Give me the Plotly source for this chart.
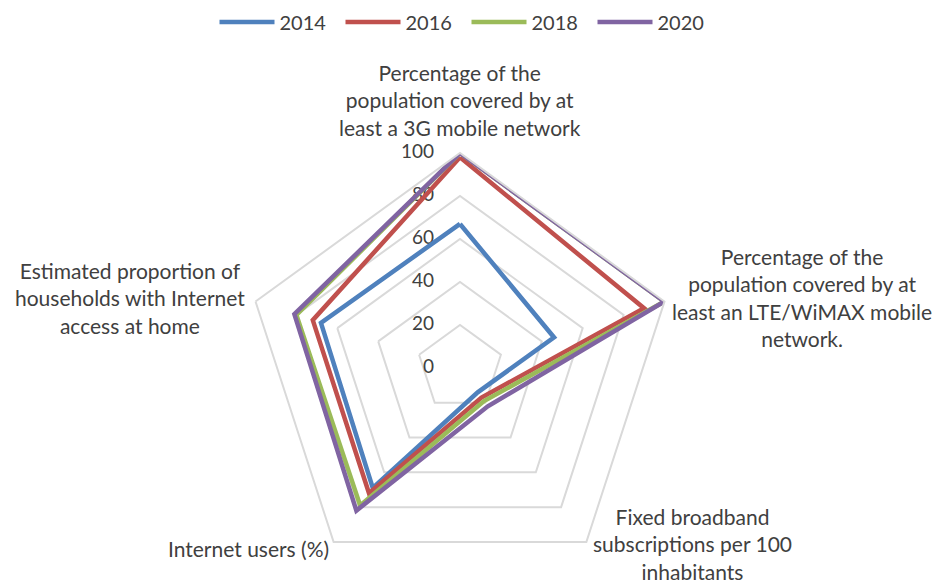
import math
import plotly.graph_objects as go

categories = [
    "Percentage of the<br>population covered by at<br>least a 3G mobile network",
    "Percentage of the<br>population covered by at<br>least an LTE/WiMAX mobile<br>network.",
    "Fixed broadband<br>subscriptions per 100<br>inhabitants",
    "Internet users (%)",
    "Estimated proportion of<br>households with Internet<br>access at home",
]
years = ["2014", "2016", "2018", "2020"]
v2014 = [67, 46, 14, 69, 68]
v2016 = [98, 90, 17, 72, 72]
v2018 = [100, 100, 19, 79, 80]
v2020 = [100, 100, 22, 82, 81]
series = [v2014, v2016, v2018, v2020]
colors = ["#4F81BD", "#C0504D", "#9BBB59", "#8064A2"]
radial_ticks = [0, 20, 40, 60, 80, 100]

FONT = "Lato"
TXT = "#404040"
GRID = "#D9D9D9"

fig = go.Figure()

# radial tick labels, right-aligned just left of the first (top) spoke.
# plotly drops a point lying exactly on the polar centre, so nudge r=0 by a hair.
label_r = [max(v, 1e-9) for v in radial_ticks]
fig.add_trace(go.Scatterpolar(
    r=label_r,
    theta=[categories[0]] * len(radial_ticks),
    mode="markers+text",
    text=[str(v) for v in radial_ticks],
    textposition="middle left",
    textfont=dict(size=19, color=TXT, family=FONT),
    marker=dict(size=40, color="rgba(0,0,0,0)"),
    cliponaxis=False,
    showlegend=False, hoverinfo="skip",
))

for name, vals, col in zip(years, series, colors):
    fig.add_trace(go.Scatterpolar(
        r=vals + vals[:1],
        theta=categories + categories[:1],
        mode="lines",
        name=name,
        line=dict(color=col, width=4.5),
    ))

W, H = 933, 584
cx, cy, R = 460, 368, 215

# category labels placed just outside each vertex of the outer ring
label_style = [
    dict(xanchor="center", yanchor="bottom", xshift=0, yshift=11),
    dict(xanchor="left", yanchor="middle", xshift=6, yshift=4),
    dict(xanchor="left", yanchor="middle", xshift=5, yshift=-2),
    dict(xanchor="right", yanchor="middle", xshift=-3, yshift=-7),
    dict(xanchor="right", yanchor="middle", xshift=-9, yshift=4),
]
annotations = []
n = len(categories)
for i, (txt, st) in enumerate(zip(categories, label_style)):
    ang = math.radians(90 - i * 360 / n)
    px = cx + R * math.cos(ang)
    py = cy - R * math.sin(ang)
    annotations.append(dict(
        text=txt, x=px / W, y=1 - py / H, xref="paper", yref="paper",
        showarrow=False, align="center", font=dict(size=21, color=TXT, family=FONT),
        **st,
    ))

fig.update_layout(
    width=W, height=H,
    margin=dict(l=0, r=0, t=0, b=0, autoexpand=False),
    paper_bgcolor="white",
    font=dict(family=FONT, color=TXT, size=19),
    showlegend=True,
    legend=dict(orientation="h", x=0.5, xanchor="center", y=1 - 22 / H, yanchor="middle",
                font=dict(size=20, color=TXT), traceorder="normal",
                itemwidth=55, entrywidth=56, entrywidthmode="pixels"),
    annotations=annotations,
    polar=dict(
        domain=dict(x=[(cx - R) / W, (cx + R) / W], y=[1 - (cy + R) / H, 1 - (cy - R) / H]),
        bgcolor="white",
        gridshape="linear",
        angularaxis=dict(
            direction="clockwise", rotation=90,
            showgrid=False, showline=True, linecolor=GRID, linewidth=2,
            ticks="", showticklabels=False,
        ),
        radialaxis=dict(
            range=[0, 100], tickvals=radial_ticks, angle=90,
            showline=False, ticks="", showticklabels=False,
            gridcolor=GRID, gridwidth=2,
        ),
    ),
)
fig.write_html(
    "out.html",
    config={"displayModeBar": False},
    post_script="document.body.style.margin='0px';document.body.style.padding='0px';",
)
